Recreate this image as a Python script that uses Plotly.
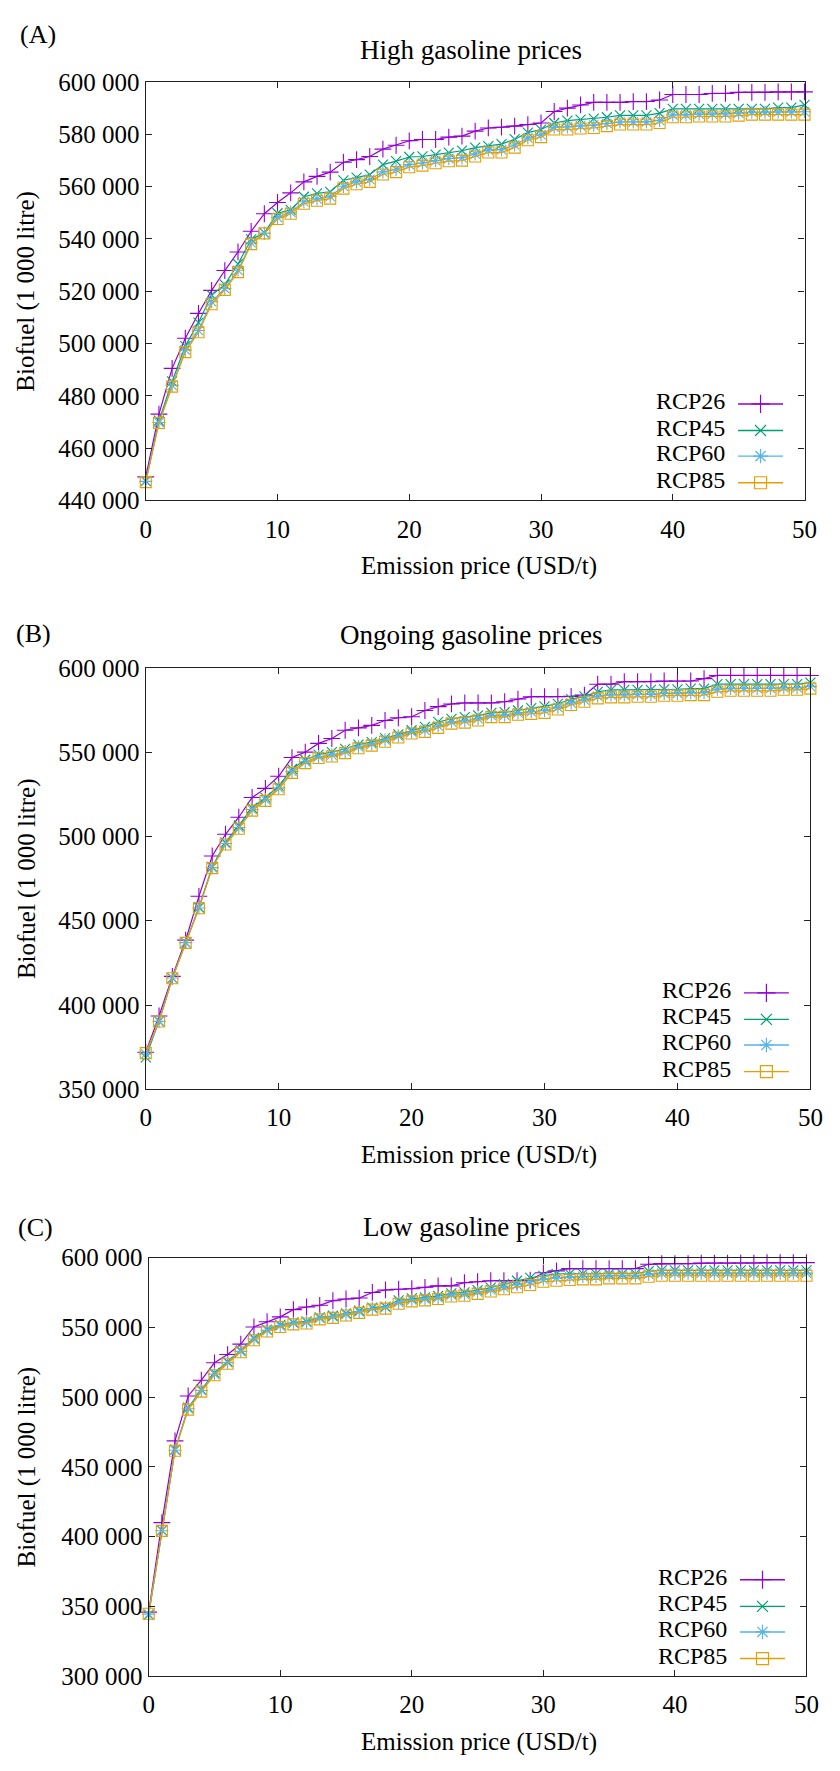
import plotly.graph_objects as go

# ---------------- data ----------------
emission_price = [0, 1, 2, 3, 4, 5, 6, 7, 8, 9, 10, 11, 12, 13, 14, 15, 16, 17, 18, 19, 20,
                  21, 22, 23, 24, 25, 26, 27, 28, 29, 30, 31, 32, 33, 34, 35, 36, 37, 38, 39, 40,
                  41, 42, 43, 44, 45, 46, 47, 48, 49, 50]

series_names = ["RCP26", "RCP45", "RCP60", "RCP85"]

# (A) High gasoline prices
high_rcp26 = [449000, 473000, 490500, 502000, 511500, 520300, 527900, 535000, 542900, 549600, 553900,
              557600, 561800, 563900, 565500, 569300, 570300, 571500, 574300, 575800, 577500,
              578000, 578000, 578900, 579300, 581200, 582400, 582700, 583100, 583700, 584300,
              588700, 590000, 591200, 592200, 592200, 592200, 592500, 592500, 593100, 595200,
              595200, 595200, 595600, 595600, 596000, 596000, 596000, 596200, 596200, 596200]
high_rcp45 = [447500, 470500, 485500, 499000, 508000, 518500, 522500, 530400, 539800, 542300, 549800,
              551100, 556100, 557400, 558000, 562400, 563400, 564600, 568400, 569700, 571300,
              571500, 572200, 573000, 573700, 574900, 575500, 576200, 578100, 580600, 581800,
              584300, 585200, 585600, 586000, 586500, 587200, 587200, 587200, 588100, 589700,
              589700, 589700, 589700, 589700, 589700, 589700, 589700, 590200, 590200, 591200]
high_rcp60 = [447300, 469800, 484000, 497500, 505000, 516000, 521000, 528000, 538500, 542200, 548200,
              550200, 554200, 555300, 556200, 560100, 561800, 562700, 565600, 566600, 568400,
              569000, 569900, 570700, 571000, 572500, 574000, 574100, 575900, 578600, 579800,
              582700, 582800, 583200, 583500, 584100, 584700, 584700, 584700, 585300, 587400,
              587400, 587700, 587700, 587800, 588100, 588400, 588400, 588500, 588500, 588600]
high_rcp85 = [447000, 469600, 483500, 496700, 504300, 515000, 520500, 527300, 538000, 542100, 547600,
              549600, 553400, 554600, 555400, 559200, 560900, 561800, 564600, 565500, 567400,
              568000, 568900, 569700, 569900, 571500, 573000, 573000, 574900, 577700, 578900,
              581800, 581800, 582200, 582400, 583100, 583700, 583700, 583700, 584300, 586500,
              586500, 586800, 586800, 586800, 587100, 587500, 587500, 587500, 587500, 587500]

# (B) Ongoing gasoline prices
ongoing_rcp26 = [372000, 393500, 417000, 438500, 464500, 488400, 501300, 511400, 523100, 528500, 535700,
                 546800, 550000, 555200, 558100, 563000, 564400, 565900, 568800, 570400, 571000,
                 574700, 577000, 578600, 579200, 579200, 579200, 579900, 581500, 582900, 582900,
                 582900, 583100, 583800, 590300, 590300, 591800, 591800, 591800, 592200, 592200,
                 592200, 593600, 595500, 595500, 595500, 595500, 595500, 595500, 595500, 595500]
ongoing_rcp45 = [369000, 390500, 416000, 437000, 458000, 482000, 496500, 506500, 517000, 523000, 530000,
                 540000, 545500, 548500, 550000, 552000, 554500, 556000, 558300, 560500, 563000,
                 565000, 567900, 569800, 570800, 571800, 573300, 573700, 574700, 576100, 577200,
                 578600, 581500, 583100, 585800, 587000, 587000, 587000, 587000, 587300, 587300,
                 587700, 587700, 590300, 590300, 590300, 590300, 590300, 590300, 590300, 591200]
ongoing_rcp60 = [371000, 390300, 416000, 437000, 457600, 481500, 495800, 505300, 516000, 521800, 528800,
                 538600, 544300, 547300, 548400, 550400, 553200, 554900, 557200, 559600, 562000,
                 563000, 565500, 567900, 568600, 569800, 571800, 572000, 573300, 574000, 574700,
                 576600, 579200, 581000, 583200, 584000, 584000, 584300, 584300, 584900, 584900,
                 585300, 585300, 587400, 587800, 587800, 587800, 587800, 588300, 588300, 589000]
ongoing_rcp85 = [371500, 390200, 415900, 436900, 457400, 481200, 495200, 504600, 515300, 521100, 528000,
                 537700, 543500, 546500, 547400, 549400, 552300, 553900, 556200, 558700, 561100,
                 562000, 564400, 566900, 567500, 568800, 570800, 570800, 572200, 572700, 573300,
                 575300, 578000, 579900, 581900, 582500, 582500, 582900, 582900, 583500, 583500,
                 583800, 583800, 585800, 586400, 586400, 586400, 586400, 587000, 587000, 587700]

# (C) Low gasoline prices
low_rcp26 = [346000, 410100, 468700, 500900, 512200, 524700, 530600, 538100, 550400, 554100, 557600,
             562800, 564700, 565900, 569200, 570400, 571100, 575100, 576900, 577400, 577800,
             578800, 579800, 579800, 582100, 582800, 583500, 583500, 583500, 584000, 589200,
             590600, 592200, 592200, 592200, 592200, 592200, 592200, 595300, 595800, 595800,
             595800, 596200, 596200, 596200, 596200, 596200, 596500, 596500, 596500, 596500]
low_rcp45 = [344000, 404500, 462500, 492500, 505500, 517500, 525500, 533500, 542500, 548500, 551900,
             553700, 554400, 557300, 558400, 560100, 562000, 564300, 565000, 569500, 570800,
             571600, 572600, 574400, 575200, 576800, 578500, 581000, 583500, 585500, 587000,
             588500, 588500, 588500, 588500, 588500, 588500, 588500, 590300, 591000, 591000,
             591000, 591000, 591000, 591000, 591000, 591000, 591000, 591000, 591000, 591000]
low_rcp60 = [344500, 404300, 462000, 491800, 504800, 516600, 524800, 532900, 541700, 547900, 551200,
             553000, 553700, 556600, 557700, 559400, 561300, 563600, 564300, 568000, 569700,
             570400, 571400, 573300, 573900, 575400, 577100, 578900, 580700, 582600, 584600,
             585600, 586100, 586600, 586600, 587200, 587200, 587200, 588200, 589000, 589000,
             589000, 589000, 589000, 589000, 589000, 589000, 589000, 589000, 589000, 589000]
low_rcp85 = [344800, 404200, 461600, 491100, 504000, 515800, 524000, 532200, 540900, 547100, 550400,
             552200, 552900, 555800, 556900, 558600, 560500, 562800, 563500, 567000, 568700,
             569400, 570400, 572200, 572700, 574100, 575800, 577400, 578800, 580500, 582800,
             583500, 584000, 584500, 584500, 585200, 585200, 585200, 586400, 587100, 587100,
             587100, 587100, 587100, 587100, 587100, 587100, 587100, 587100, 587100, 587100]

panel_letters = ["(A)", "(B)", "(C)"]
panel_titles = ["High gasoline prices", "Ongoing gasoline prices", "Low gasoline prices"]
x_tick_vals = [0, 10, 20, 30, 40, 50]
x_tick_text = ["0", "10", "20", "30", "40", "50"]
y_tick_vals_a = [440000, 460000, 480000, 500000, 520000, 540000, 560000, 580000, 600000]
y_tick_text_a = ["440 000", "460 000", "480 000", "500 000", "520 000", "540 000", "560 000", "580 000", "600 000"]
y_tick_vals_b = [350000, 400000, 450000, 500000, 550000, 600000]
y_tick_text_b = ["350 000", "400 000", "450 000", "500 000", "550 000", "600 000"]
y_tick_vals_c = [300000, 350000, 400000, 450000, 500000, 550000, 600000]
y_tick_text_c = ["300 000", "350 000", "400 000", "450 000", "500 000", "550 000", "600 000"]
x_title = "Emission price (USD/t)"
y_title = "Biofuel (1 000 litre)"

# ---------------- styling / layout ----------------
W, H = 840, 1771
FONT = "Liberation Serif"
colors = ["#9400D3", "#009E73", "#56B4E9", "#E69F00"]
symbols = ["cross-thin-open", "x-thin-open", "asterisk-open", "square-open"]
msizes = [12, 10, 11, 11]

panels = [
    dict(series=[high_rcp26, high_rcp45, high_rcp60, high_rcp85], yr=[440000, 600000],
         tv=y_tick_vals_a, tt=y_tick_text_a, left=143, right=817, top=70, bottom=495,
         title_y=38, letter_x=12, letter_y=22),
    dict(series=[ongoing_rcp26, ongoing_rcp45, ongoing_rcp60, ongoing_rcp85], yr=[350000, 600000],
         tv=y_tick_vals_b, tt=y_tick_text_b, left=143, right=823, top=665, bottom=1093,
         title_y=632, letter_x=8, letter_y=630),
    dict(series=[low_rcp26, low_rcp45, low_rcp60, low_rcp85], yr=[300000, 600000],
         tv=y_tick_vals_c, tt=y_tick_text_c, left=146, right=819, top=1264, bottom=1689,
         title_y=1233, letter_x=10, letter_y=1233),
]

fig = go.Figure()
annotations = []
layout_axes = {}

for k, p in enumerate(panels):
    sfx = "" if k == 0 else str(k + 1)
    xa, ya = "x" + sfx, "y" + sfx
    xr = [0, 50]
    for s, vals in enumerate(p["series"]):
        fig.add_trace(go.Scatter(
            x=emission_price, y=vals, xaxis=xa, yaxis=ya, mode="lines+markers",
            name=series_names[s], showlegend=False,
            line=dict(color=colors[s], width=1.2),
            marker=dict(symbol=symbols[s], size=msizes[s], color=colors[s],
                        line=dict(color=colors[s], width=1.1)),
            cliponaxis=False,
        ))

    # pixel -> data helpers for the in-plot legend
    def px2x(px, p=p):
        return xr[0] + (px - p["left"]) / (p["right"] - p["left"]) * (xr[1] - xr[0])

    def px2y(py, p=p):
        return p["yr"][1] - (py - p["top"]) / (p["bottom"] - p["top"]) * (p["yr"][1] - p["yr"][0])

    row_offsets = [98, 71, 45, 18]
    for s in range(4):
        py = p["bottom"] - row_offsets[s]
        x1, x2 = px2x(p["right"] - 68), px2x(p["right"] - 22)
        yv = px2y(py)
        fig.add_trace(go.Scatter(x=[x1, x2], y=[yv, yv], xaxis=xa, yaxis=ya, mode="lines",
                                 line=dict(color=colors[s], width=1.4), showlegend=False,
                                 hoverinfo="skip"))
        fig.add_trace(go.Scatter(x=[(x1 + x2) / 2], y=[yv], xaxis=xa, yaxis=ya, mode="markers",
                                 marker=dict(symbol=symbols[s], size=msizes[s] + 1, color=colors[s],
                                             line=dict(color=colors[s], width=1.2)),
                                 showlegend=False, hoverinfo="skip"))
        annotations.append(dict(text=series_names[s], x=(p["right"] - 79) / W, y=1 - (py - 3) / H,
                                xref="paper", yref="paper", xanchor="right", yanchor="middle",
                                showarrow=False, font=dict(family=FONT, size=24, color="black")))

    axis_common = dict(showline=True, linecolor="#222", linewidth=1.3, mirror="ticks",
                       ticks="inside", ticklen=6, tickcolor="#222", tickwidth=1,
                       showgrid=False, zeroline=False,
                       tickfont=dict(family=FONT, size=25, color="black"))
    layout_axes["xaxis" + sfx] = dict(axis_common, domain=[p["left"] / W, p["right"] / W],
                                      range=xr, tickvals=x_tick_vals, ticktext=x_tick_text,
                                      anchor=ya, ticklabelstandoff=6)
    layout_axes["yaxis" + sfx] = dict(axis_common, domain=[1 - p["bottom"] / H, 1 - p["top"] / H],
                                      range=p["yr"], tickvals=p["tv"], ticktext=p["tt"],
                                      anchor=xa, ticklabelstandoff=0)

    annotations.append(dict(text=panel_titles[k], x=476 / W, y=1 - p["title_y"] / H, xref="paper",
                            yref="paper", xanchor="center", yanchor="middle", showarrow=False,
                            font=dict(family=FONT, size=27, color="black")))
    annotations.append(dict(text=panel_letters[k], x=p["letter_x"] / W, y=1 - p["letter_y"] / H,
                            xref="paper", yref="paper", xanchor="left", yanchor="middle",
                            showarrow=False, font=dict(family=FONT, size=26, color="black")))
    annotations.append(dict(text=x_title, x=484 / W, y=1 - (p["bottom"] + 67) / H, xref="paper",
                            yref="paper", xanchor="center", yanchor="middle", showarrow=False,
                            font=dict(family=FONT, size=25, color="black")))
    annotations.append(dict(text=y_title, x=21 / W, y=1 - (p["top"] + p["bottom"]) / 2 / H,
                            xref="paper", yref="paper", xanchor="center", yanchor="middle",
                            textangle=-90, showarrow=False,
                            font=dict(family=FONT, size=25, color="black")))

fig.update_layout(
    width=W, height=H, margin=dict(l=0, r=0, t=0, b=0),
    paper_bgcolor="white", plot_bgcolor="white",
    font=dict(family=FONT, size=25, color="black"),
    showlegend=False, annotations=annotations, **layout_axes,
)

fig.write_html("out.html")
